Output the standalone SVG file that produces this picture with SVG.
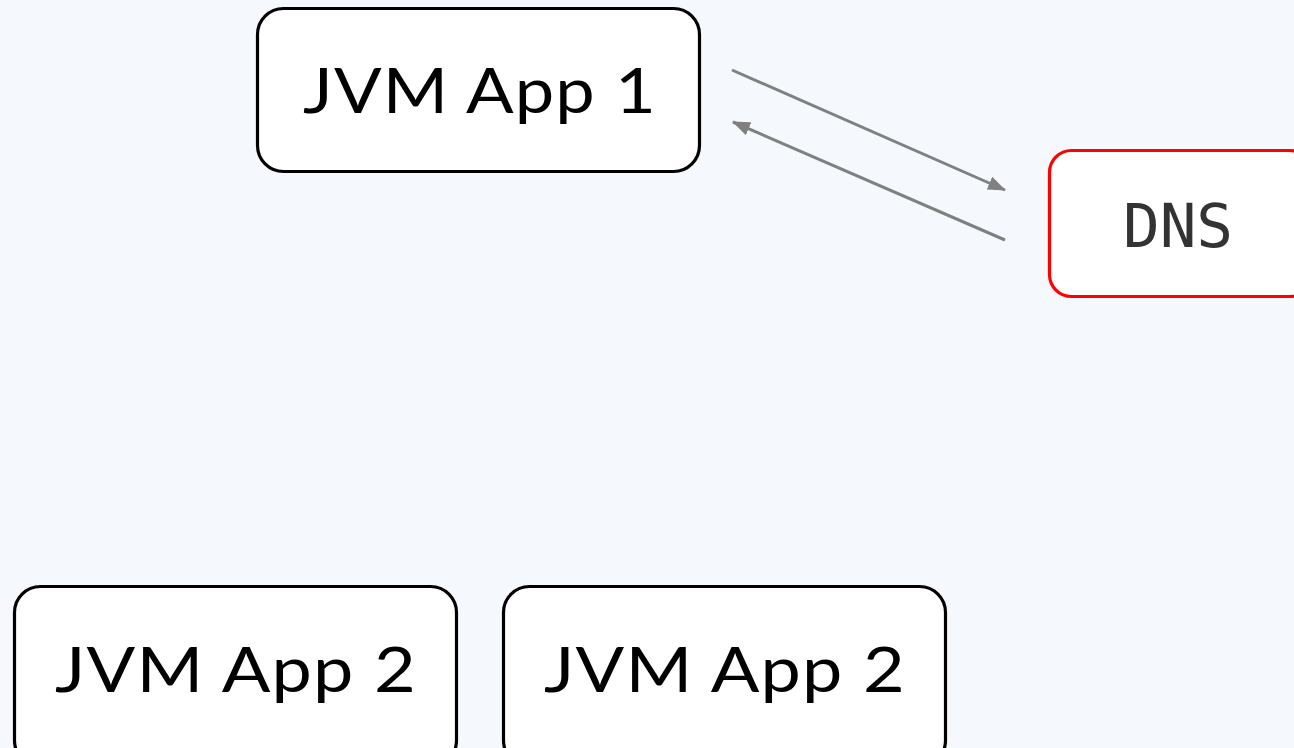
<svg xmlns="http://www.w3.org/2000/svg" width="1294" height="748" viewBox="0 0 1294 748">
  <defs>
    <marker id="arrow" viewBox="0 0 18 14" refX="17" refY="7" markerWidth="18" markerHeight="14" markerUnits="userSpaceOnUse" orient="auto">
      <path d="M0,0 L18,7 L0,14 z" fill="#808080"/>
    </marker>
    <style>
      .box { fill: #ffffff; stroke: #000000; stroke-width: 3.2; }
      .dns { fill: #ffffff; stroke: #ff0000; stroke-width: 3.2; }
      .label { font-family: Lato, "Liberation Sans", sans-serif; font-size: 62px; fill: #000000; text-anchor: middle; letter-spacing: 1px; }
      .mono { font-family: "DejaVu Sans Mono", "Liberation Mono", monospace; font-size: 61px; fill: #333333; text-anchor: middle; }
      .edge { stroke: #808080; stroke-width: 3; fill: none; }
    </style>
  </defs>
  <rect width="1294" height="748" fill="#f5f9fe"/>

  <g id="connectors">
    <line class="edge" x1="732" y1="70" x2="1005" y2="190" marker-end="url(#arrow)"/>
    <line class="edge" x1="1005" y1="240" x2="733" y2="122" marker-end="url(#arrow)"/>
  </g>

  <g id="app1">
    <rect class="box" x="257.5" y="8.5" width="442" height="163" rx="26"/>
    <text class="label" x="480" y="113" textLength="354" lengthAdjust="spacingAndGlyphs">JVM App 1</text>
  </g>

  <g id="dns">
    <rect class="dns" x="1049.5" y="150.5" width="262" height="146" rx="22"/>
    <text class="mono" x="1178" y="247">DNS</text>
  </g>

  <g id="app2a">
    <rect class="box" x="14.5" y="586.5" width="442" height="180" rx="26"/>
    <text class="label" x="236" y="692" textLength="362" lengthAdjust="spacingAndGlyphs">JVM App 2</text>
  </g>

  <g id="app2b">
    <rect class="box" x="503.5" y="586.5" width="442" height="180" rx="26"/>
    <text class="label" x="725" y="692" textLength="362" lengthAdjust="spacingAndGlyphs">JVM App 2</text>
  </g>
</svg>
